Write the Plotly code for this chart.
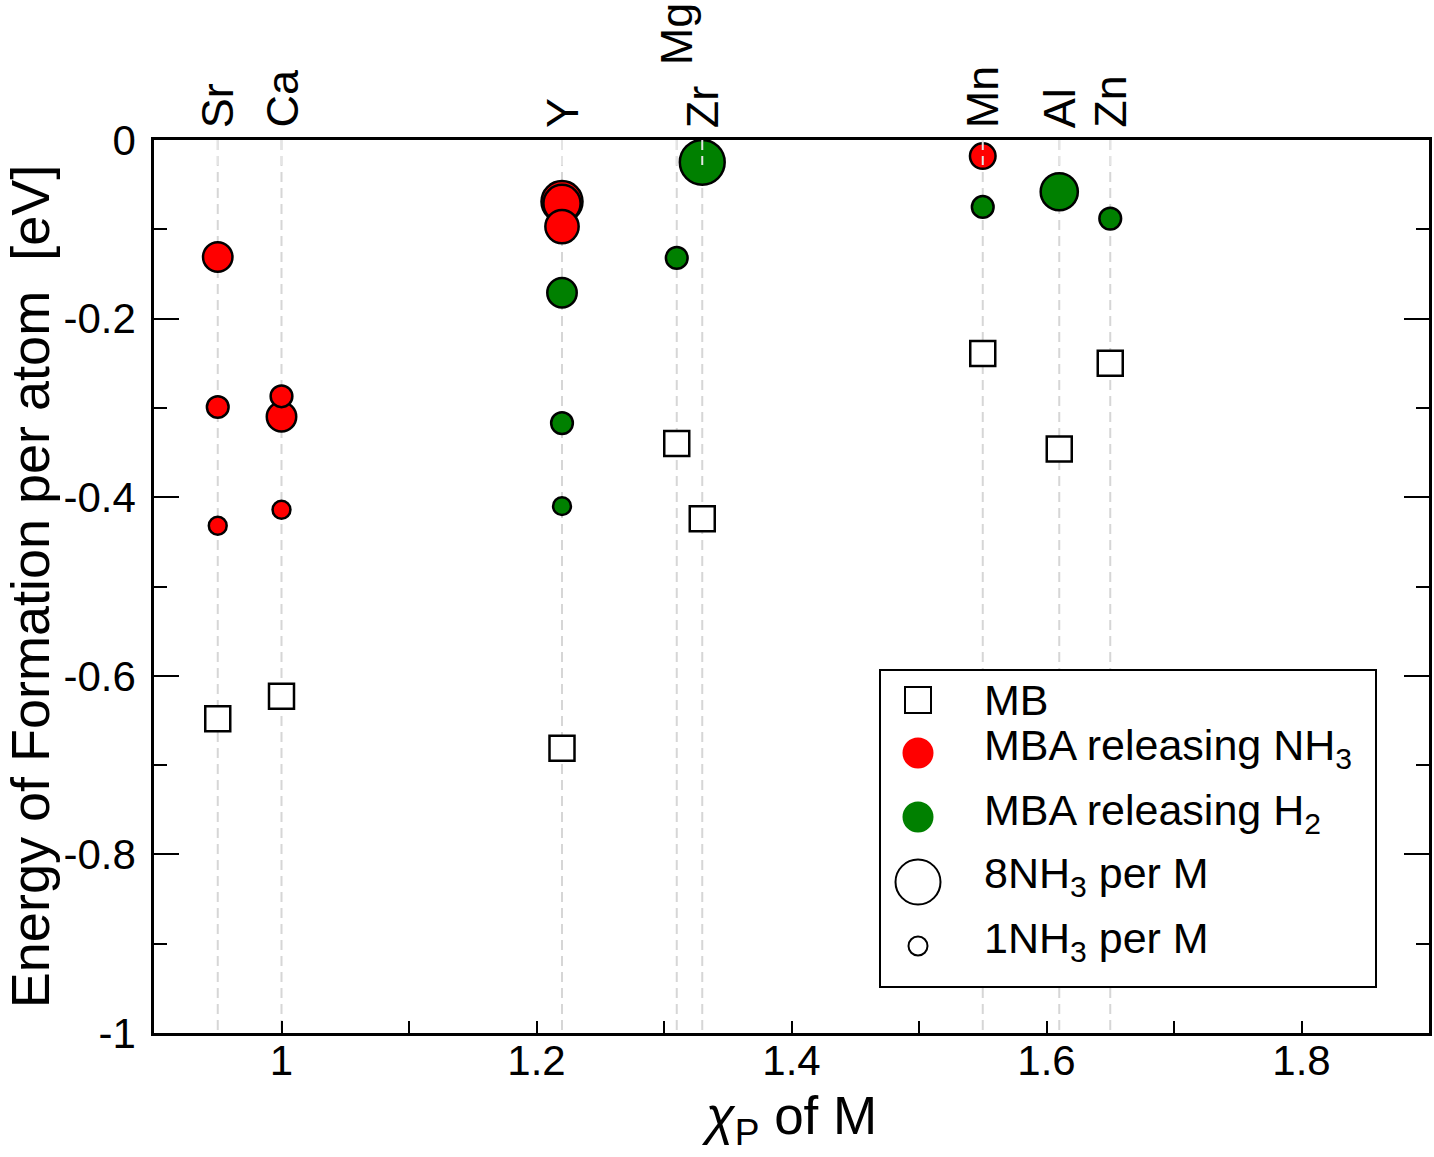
import plotly.graph_objects as go

# ---------------- data ----------------
elements = ["Sr", "Ca", "Y", "Mg", "Zr", "Mn", "Al", "Zn"]
chi_p = [0.95, 1.00, 1.22, 1.31, 1.33, 1.55, 1.61, 1.65]
mb_energy = [-0.648, -0.623, -0.681, -0.340, -0.424, -0.239, -0.346, -0.250]

nh3_elem = ["Sr", "Sr", "Sr", "Ca", "Ca", "Ca", "Y", "Y", "Y", "Mn"]
nh3_energy = [-0.131, -0.299, -0.432, -0.310, -0.287, -0.414, -0.069, -0.071, -0.097, -0.018]
nh3_count = [4, 2, 1, 4, 2, 1, 7, 6, 5, 3]

h2_elem = ["Y", "Y", "Y", "Mg", "Zr", "Mn", "Al", "Zn"]
h2_energy = [-0.171, -0.317, -0.410, -0.132, -0.025, -0.075, -0.058, -0.088]
h2_count = [4, 2, 1, 2, 8, 2, 6, 2]

x_tickvals = [1.0, 1.2, 1.4, 1.6, 1.8]
x_ticktext = ["1", "1.2", "1.4", "1.6", "1.8"]
y_tickvals = [0, -0.2, -0.4, -0.6, -0.8, -1.0]
y_ticktext = ["0", "-0.2", "-0.4", "-0.6", "-0.8", "-1"]

legend_labels = ["MB", "MBA releasing NH<sub>3</sub>", "MBA releasing H<sub>2</sub>",
                 "8NH<sub>3</sub> per M", "1NH<sub>3</sub> per M"]

# ---------------- helpers ----------------
chi_of = dict(zip(elements, chi_p))
RED = "#ff0000"
GREEN = "#008000"
FONT = "Liberation Sans, Arial, Helvetica, sans-serif"
LINE_W = 2.5


def marker_size(n):
    return 14.0 + 3.86 * n


fig = go.Figure()

# MB squares
fig.add_trace(go.Scatter(
    x=chi_p, y=mb_energy, mode="markers",
    marker=dict(symbol="square", size=25, color="white", opacity=1,
                line=dict(color="black", width=LINE_W)),
    showlegend=False, name="MB"))

# MBA releasing NH3
fig.add_trace(go.Scatter(
    x=[chi_of[e] for e in nh3_elem], y=nh3_energy, mode="markers",
    marker=dict(symbol="circle", size=[marker_size(n) for n in nh3_count], color=RED,
                opacity=1, line=dict(color="black", width=LINE_W)),
    showlegend=False, name="MBA releasing NH3"))

# MBA releasing H2
fig.add_trace(go.Scatter(
    x=[chi_of[e] for e in h2_elem], y=h2_energy, mode="markers",
    marker=dict(symbol="circle", size=[marker_size(n) for n in h2_count], color=GREEN,
                opacity=1, line=dict(color="black", width=LINE_W)),
    showlegend=False, name="MBA releasing H2"))

# ---------------- guide lines and element labels ----------------
shapes = []
annotations = []
label_lift = {"Mg": 63}
for el, c in zip(elements, chi_p):
    shapes.append(dict(type="line", xref="x", yref="y", x0=c, x1=c, y0=0, y1=-1,
                       line=dict(color="#d6d6d6", width=2, dash="10px,6px"), layer="below"))
    shapes.append(dict(type="line", xref="x", yref="y", x0=c, x1=c, y0=0, y1=-0.028,
                       line=dict(color="#e4e4e4", width=2, dash="10px,6px"), layer="above"))
    annotations.append(dict(x=c, y=0, xref="x", yref="y", text=el, showarrow=False,
                            textangle=-90, xanchor="center", yanchor="bottom",
                            yshift=10 + label_lift.get(el, 0),
                            font=dict(family=FONT, size=45, color="black")))

# ---------------- manual legend ----------------
W, H = 1434, 1157
L, R, T, B = 154, 1429, 140, 1033


def px(xp):
    return (xp - L) / (R - L)


def py(yp):
    return (B - yp) / (B - T)


shapes.append(dict(type="rect", xref="paper", yref="paper",
                   x0=px(880), x1=px(1376), y0=py(987), y1=py(670),
                   line=dict(color="black", width=2), fillcolor="white", layer="above"))

sym_x = 918
row_y = [700, 753, 817, 882, 946]
text_y = [700, 748, 813, 876, 941]


def pix_shape(kind, xc, yc, d, fill, lw, lc="black"):
    return dict(type=kind, xref="paper", yref="paper",
                xsizemode="pixel", ysizemode="pixel",
                xanchor=px(xc), yanchor=py(yc),
                x0=-d / 2, x1=d / 2, y0=-d / 2, y1=d / 2,
                fillcolor=fill, line=dict(color=lc, width=lw), layer="above")


shapes.append(pix_shape("rect", sym_x, row_y[0], 26, "white", 2))
shapes.append(pix_shape("circle", sym_x, row_y[1], 31, RED, 0, RED))
shapes.append(pix_shape("circle", sym_x, row_y[2], 31, GREEN, 0, GREEN))
shapes.append(pix_shape("circle", sym_x, row_y[3], 45, "white", 2))
shapes.append(pix_shape("circle", sym_x, row_y[4], 19, "white", 2))

for lab, ty in zip(legend_labels, text_y):
    annotations.append(dict(x=px(982), y=py(ty), xref="paper", yref="paper",
                            text=lab, showarrow=False, xanchor="left", yanchor="middle",
                            font=dict(family=FONT, size=43, color="black")))

fig.update_layout(
    width=W, height=H,
    margin=dict(l=L, r=W - R, t=T, b=H - B, pad=0, autoexpand=False),
    plot_bgcolor="white", paper_bgcolor="white",
    font=dict(family=FONT, color="black"),
    shapes=shapes, annotations=annotations,
    showlegend=False,
    xaxis=dict(range=[0.9, 1.9], tickvals=x_tickvals, ticktext=x_ticktext,
               ticks="inside", ticklen=12, tickwidth=2, tickcolor="black",
               minor=dict(dtick=0.1, tick0=0.9, ticks="inside", ticklen=12, tickwidth=2,
                          tickcolor="black", showgrid=False),
               showline=True, linecolor="black", linewidth=LINE_W, mirror=True,
               showgrid=False, zeroline=False, automargin=False,
               tickfont=dict(family=FONT, size=42), ticklabelstandoff=-11,
               title=dict(text="<i>χ</i><sub>P</sub> of M",
                          font=dict(family=FONT, size=53), standoff=14)),
    yaxis=dict(range=[-1, 0], tickvals=y_tickvals, ticktext=y_ticktext,
               ticks="inside", ticklen=25, tickwidth=2, tickcolor="black",
               minor=dict(dtick=0.1, tick0=0, ticks="inside", ticklen=13, tickwidth=2,
                          tickcolor="black", showgrid=False),
               showline=True, linecolor="black", linewidth=LINE_W, mirror="ticks",
               showgrid=False, zeroline=False, automargin=False,
               tickfont=dict(family=FONT, size=42), ticklabelstandoff=7,
               title=dict(text="Energy of Formation per atom  [eV]",
                          font=dict(family=FONT, size=54), standoff=29)),
)

fig.write_html("out.html")
